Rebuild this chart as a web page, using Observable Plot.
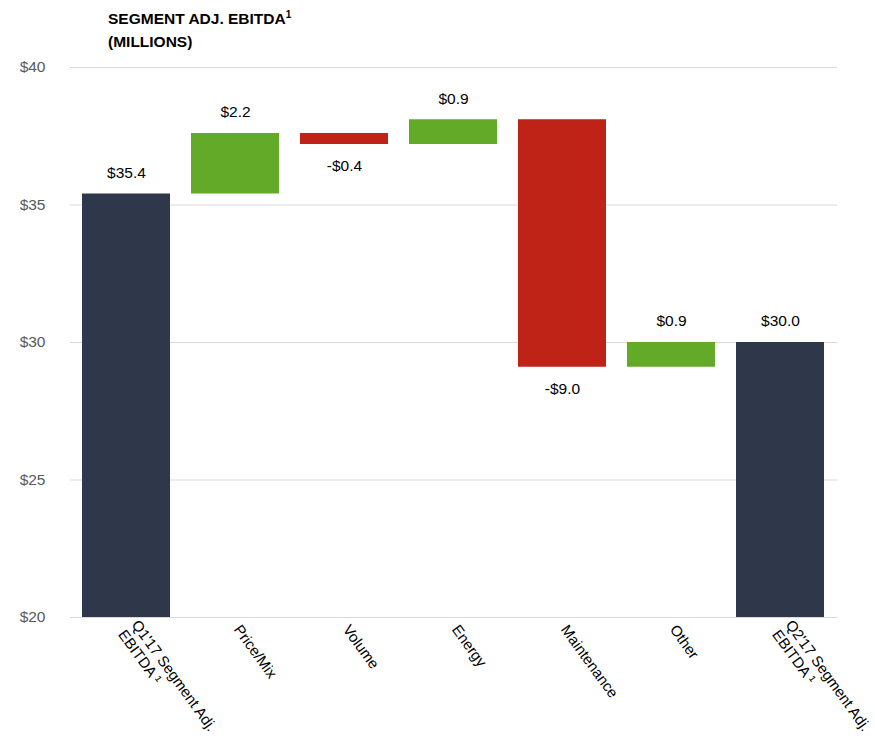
<!DOCTYPE html>
<html>
<head>
<meta charset="utf-8">
<script src="https://cdn.jsdelivr.net/npm/d3@7"></script>
<script src="https://cdn.jsdelivr.net/npm/@observablehq/plot@0.6"></script>
<style>
  html, body { margin: 0; padding: 0; background: #fff; }
  #wrap { position: relative; width: 875px; height: 745px; font-family: "Liberation Sans", Arial, sans-serif; }
  #title { position: absolute; left: 108px; top: 7px; font-weight: bold; font-size: 15.5px; line-height: 23px; color: #000; z-index: 2; }
  #title sup { font-size: 10px; line-height: 0; vertical-align: 6px; }
  #chart { position: absolute; left: 0; top: 0; }
</style>
</head>
<body>
<div id="wrap">
  <div id="title">SEGMENT ADJ. EBITDA<sup>1</sup><br>(MILLIONS)</div>
  <div id="chart"></div>
</div>
<script>
const categories = ["Q1'17 Segment Adj.\nEBITDA ¹", "Price/Mix", "Volume", "Energy", "Maintenance", "Other", "Q2'17 Segment Adj.\nEBITDA ¹"];
const values = [35.4, 2.2, -0.4, 0.9, -9.0, 0.9, 30.0];
const kinds = ["total", "delta", "delta", "delta", "delta", "delta", "total"];
const valueLabels = ["$35.4", "$2.2", "-$0.4", "$0.9", "-$9.0", "$0.9", "$30.0"];
const yTicks = [20, 25, 30, 35, 40];

const colors = {total: "#2f374b", up: "#62aa27", down: "#bf2318"};

let running = 0;
const rows = categories.map((c, i) => {
  let y1, y2, type;
  if (kinds[i] === "total") {
    y1 = 0; y2 = values[i]; running = values[i]; type = "total";
  } else {
    y1 = running; y2 = running + values[i]; running = y2;
    type = values[i] >= 0 ? "up" : "down";
  }
  const top = Math.max(y1, y2), bottom = Math.min(y1, y2);
  return {cat: c, y1, y2, type, label: valueLabels[i],
          ly: type === "down" ? bottom : top, below: type === "down"};
});

const font = "Liberation Sans, Arial, sans-serif";

const chart = Plot.plot({
  width: 875,
  height: 745,
  marginTop: 67,
  marginBottom: 128,
  marginLeft: 70,
  marginRight: 38,
  style: {fontFamily: font, fontSize: "14px", background: "transparent"},
  x: {domain: categories, paddingInner: 0.19, paddingOuter: 0.095, axis: null},
  y: {domain: [20, 40], axis: null},
  marks: [
    Plot.ruleY(yTicks, {stroke: "#d9d9d9", strokeWidth: 1}),
    Plot.text(yTicks, {frameAnchor: "left", y: d => d, text: d => "$" + d,
      textAnchor: "end", dx: -25, fill: "#595959", fontSize: 15.5, fontFamily: font}),
    Plot.barY(rows, {x: "cat", y1: "y1", y2: "y2", fill: d => colors[d.type], clip: true}),
    Plot.text(rows.filter(d => !d.below), {x: "cat", y: "ly", text: "label", dy: -21, fill: "#000", fontSize: 15.5, fontFamily: font}),
    Plot.text(rows.filter(d => d.below), {x: "cat", y: "ly", text: "label", dy: 22, fill: "#000", fontSize: 15.5, fontFamily: font}),
    Plot.text(rows, {x: "cat", y: () => 20, text: "cat", rotate: 54, textAnchor: "start", lineAnchor: "middle",
      dy: 9, dx: 2, fill: "#000", fontSize: 15, fontFamily: font, lineHeight: 1.1})
  ]
});
document.getElementById("chart").appendChild(chart);
</script>
</body>
</html>
